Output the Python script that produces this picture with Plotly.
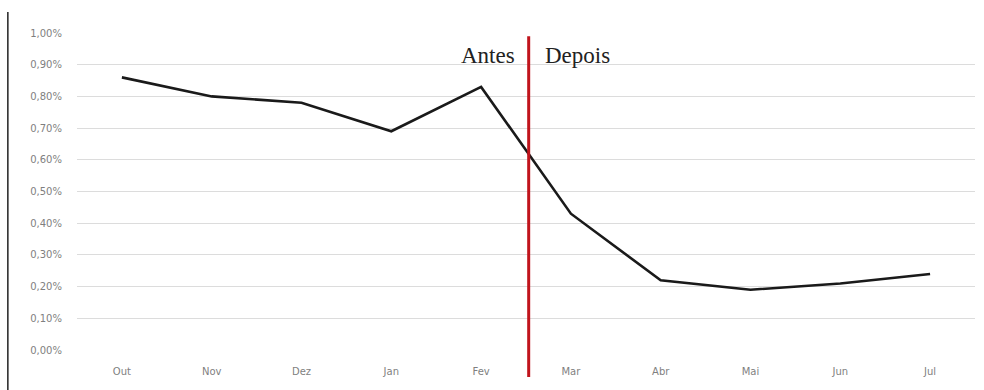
import plotly.graph_objects as go

months = ["Out", "Nov", "Dez", "Jan", "Fev", "Mar", "Abr", "Mai", "Jun", "Jul"]
values = [0.86, 0.80, 0.78, 0.69, 0.83, 0.43, 0.22, 0.19, 0.21, 0.24]
y_ticks = [0.0, 0.1, 0.2, 0.3, 0.4, 0.5, 0.6, 0.7, 0.8, 0.9, 1.0]
split_pos = 4.53
labels = ["Antes", "Depois"]

x_idx = list(range(len(months)))

fig = go.Figure()
fig.add_trace(go.Scatter(x=x_idx, y=values, mode="lines",
                         line=dict(color="#1a1a1a", width=2.6), hoverinfo="skip"))

fig.add_shape(type="line", xref="x", yref="paper", x0=split_pos, x1=split_pos,
              y0=-0.085, y1=0.99, line=dict(color="#c0141c", width=3))
fig.add_shape(type="line", xref="paper", yref="paper", x0=-0.077, x1=-0.077,
              y0=-0.2, y1=1.066, line=dict(color="#222222", width=1.5))

serif = "Liberation Serif, DejaVu Serif, serif"
fig.add_annotation(x=split_pos, y=0.93, xref="x", yref="y", text=labels[0],
                   showarrow=False, xanchor="right", xshift=-12,
                   font=dict(family=serif, size=23, color="#222222"))
fig.add_annotation(x=split_pos, y=0.93, xref="x", yref="y", text=labels[1],
                   showarrow=False, xanchor="left", xshift=14,
                   font=dict(family=serif, size=23, color="#222222"))

fig.update_layout(
    width=984, height=390,
    margin=dict(l=77, r=9, t=33, b=40),
    paper_bgcolor="white", plot_bgcolor="white",
    showlegend=False,
    separators=",.",
    font=dict(family="DejaVu Sans, sans-serif", size=10, color="#7f7f7f"),
    xaxis=dict(tickmode="array", tickvals=x_idx, ticktext=months,
               range=[-0.5, len(months) - 0.5], showgrid=False, zeroline=False,
               showline=False, ticks="", ticklabelstandoff=14,
               tickfont=dict(size=10, color="#7f7f7f")),
    yaxis=dict(tickmode="array", tickvals=y_ticks,
               ticktext=[f"{v:.2f}%".replace(".", ",") for v in y_ticks],
               range=[0, 1.0], showgrid=True, gridcolor="#dcdcdc", gridwidth=1,
               zeroline=False, showline=False, ticks="", ticklabelstandoff=14,
               tickfont=dict(size=10, color="#7f7f7f")),
)

fig.write_html("out.html")
